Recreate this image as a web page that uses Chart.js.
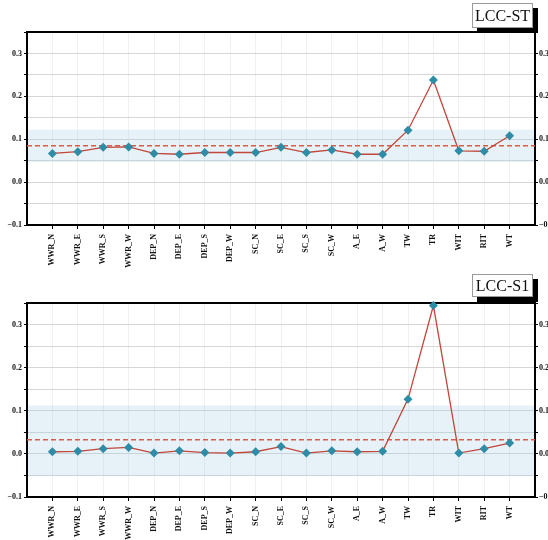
<!DOCTYPE html>
<html>
<head>
<meta charset="utf-8">
<script src="https://cdn.jsdelivr.net/npm/chart.js@4.4.1/dist/chart.umd.min.js"></script>
<style>
  body { margin: 0; background: #fff; }
  .panel { position: relative; width: 548px; height: 270px; }
  .panel canvas { position: absolute; left: 0; top: 0; }
  .tag {
    position: absolute;
    left: 472px;
    width: 59px;
    background: #fff;
    border: 1px solid #9a9a9a;
    box-shadow: 5px 5px 0 #000;
    font-family: "Liberation Serif", "Times New Roman", serif;
    font-size: 16px;
    text-align: center;
    color: #111;
  }
</style>
</head>
<body>
<div class="panel">
  <canvas id="chartST" width="548" height="270"></canvas>
  <div class="tag" style="top:3px;height:23px;line-height:23px;">LCC-ST</div>
</div>
<div class="panel">
  <canvas id="chartS1" width="548" height="270"></canvas>
  <div class="tag" style="top:4px;height:21px;line-height:21px;">LCC-S1</div>
</div>
<script>
// design parameters on the x axis
var categories = ['WWR_N', 'WWR_E', 'WWR_S', 'WWR_W', 'DEP_N', 'DEP_E', 'DEP_S', 'DEP_W',
  'SC_N', 'SC_E', 'SC_S', 'SC_W', 'A_E', 'A_W', 'TW', 'TR', 'WIT', 'RIT', 'WT'];

// sensitivity values for each case
var stValues = [0.067, 0.071, 0.081, 0.082, 0.067, 0.065, 0.069, 0.069, 0.069, 0.081,
  0.069, 0.075, 0.065, 0.065, 0.121, 0.238, 0.073, 0.072, 0.108];
var s1Values = [0.005, 0.006, 0.012, 0.015, 0.002, 0.007, 0.003, 0.002, 0.005, 0.017,
  0.002, 0.007, 0.005, 0.006, 0.127, 0.344, 0.002, 0.012, 0.025];

// mean line and shaded band [low, high]
var stMean = 0.085;
var stBand = [0.047, 0.122];
var s1Mean = 0.033;
var s1Band = [-0.051, 0.112];

// labelled y ticks
var yTickValues = [-0.1, 0.0, 0.1, 0.2, 0.3];
var yTickLabels = ['\u22120.1', '0.0', '0.1', '0.2', '0.3'];

var tickFont = { family: 'Liberation Serif', size: 8, weight: 'bold' };

function yLabel(v) {
  for (var i = 0; i < yTickValues.length; i++) {
    if (Math.abs(v - yTickValues[i]) < 1e-6) return yTickLabels[i];
  }
  return '';
}

// thick black frame around the plot area
var framePlugin = {
  id: 'frame',
  beforeDatasetsDraw: function(chart) {
    var a = chart.chartArea, ctx = chart.ctx;
    ctx.save();
    ctx.strokeStyle = '#000';
    ctx.lineWidth = 2;
    ctx.strokeRect(a.left, a.top, a.right - a.left, a.bottom - a.top);
    ctx.restore();
  }
};

function makePanel(id, values, mean, band, topPad, xHeight) {
  var first = -1, last = categories.length;
  var points = values.map(function(v, i) { return { x: i, y: v }; });
  var ctx = document.getElementById(id).getContext('2d');
  return new Chart(ctx, {
    type: 'line',
    data: {
      datasets: [{
        data: points,
        borderColor: '#c2463a',
        borderWidth: 1.3,
        pointStyle: 'rectRot',
        pointRadius: 4.5,
        pointBackgroundColor: '#2f8ca6',
        pointBorderColor: '#2f8ca6',
        pointBorderWidth: 0,
        clip: false
      }, {
        data: [{ x: first, y: mean }, { x: last, y: mean }],
        borderColor: '#d95c48',
        borderWidth: 1.5,
        borderDash: [5, 3],
        pointRadius: 0
      }, {
        data: [{ x: first, y: band[0] }, { x: last, y: band[0] }],
        borderColor: 'transparent',
        pointRadius: 0
      }, {
        data: [{ x: first, y: band[1] }, { x: last, y: band[1] }],
        borderColor: 'transparent',
        pointRadius: 0,
        fill: '-1',
        backgroundColor: 'rgba(165, 208, 226, 0.28)'
      }]
    },
    options: {
      responsive: false,
      animation: false,
      layout: { padding: { top: topPad, left: 0, right: 0, bottom: 0 } },
      plugins: {
        legend: { display: false },
        tooltip: { enabled: false },
        filler: { drawTime: 'beforeDatasetsDraw' }
      },
      scales: {
        x: {
          type: 'linear',
          min: first,
          max: last,
          afterBuildTicks: function(s) {
            s.ticks = s.ticks.filter(function(t) { return t.value >= 0 && t.value < categories.length; });
          },
          afterFit: function(s) { s.height = xHeight; },
          ticks: {
            stepSize: 1,
            autoSkip: false,
            minRotation: 90,
            maxRotation: 90,
            padding: 5,
            color: '#111',
            font: tickFont,
            callback: function(v) { return categories[v] || ''; }
          },
          grid: { color: '#f0f0f0', tickColor: '#000', tickLength: 4, lineWidth: 1 },
          border: { display: false }
        },
        y: {
          position: 'left',
          min: -0.1,
          max: 0.35,
          afterFit: function(s) { s.width = 27; },
          ticks: { stepSize: 0.05, color: '#111', font: tickFont, padding: 2, callback: yLabel },
          grid: { color: '#d6d6d6', tickColor: '#000', tickLength: 3 },
          border: { display: false }
        },
        y2: {
          position: 'right',
          min: -0.1,
          max: 0.35,
          afterFit: function(s) { s.width = 13; },
          ticks: { stepSize: 0.05, color: '#111', font: tickFont, padding: 1, callback: yLabel },
          grid: { drawOnChartArea: false, tickColor: '#000', tickLength: 3 },
          border: { display: false }
        }
      }
    },
    plugins: [framePlugin]
  });
}

makePanel('chartST', stValues, stMean, stBand, 32, 45);
makePanel('chartS1', s1Values, s1Mean, s1Band, 33, 43);
</script>
</body>
</html>
